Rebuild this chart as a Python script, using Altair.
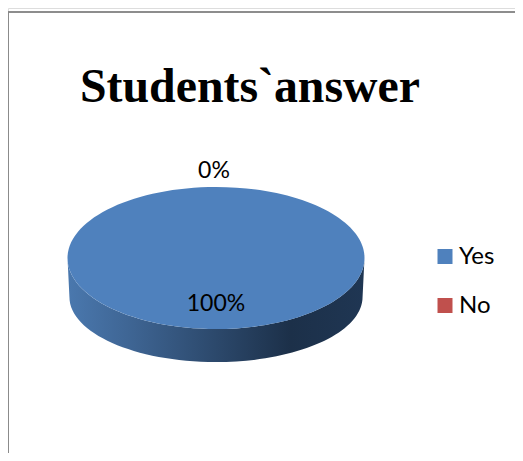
import altair as alt
import pandas as pd

answers = ["Yes", "No"]
shares = [100, 0]
labels = ["100%", "0%"]
colors = ["#4F81BD", "#C0504D"]
title_text = "Students`answer"

df = pd.DataFrame({"answer": answers, "share": shares, "label": labels})

TOP = "M-1 0 A1 0.478 0 1 1 1 0 A1 0.478 0 1 1 -1 0 Z"
SIDE = "M-1 0 L-0.987 0.263 A0.987 0.438 0 0 0 0.987 0.263 L1 0 A1 0.478 0 0 1 -1 0 Z"

W, H = 507, 445
CX, CY = 208, 250
S = (148.5 * 2) ** 2

size_enc = alt.Size("share:Q", scale=alt.Scale(domain=[0, 100], range=[0, S]), legend=None)
base = alt.Chart(df)

side = base.mark_point(
    shape=SIDE, filled=True, opacity=1, strokeWidth=0,
    fill=alt.Gradient(
        gradient="linear", x1=0, x2=1, y1=0, y2=0,
        stops=[
            alt.GradientStop(color="#4A78AE", offset=0),
            alt.GradientStop(color="#3F6695", offset=0.2),
            alt.GradientStop(color="#1C3049", offset=0.75),
            alt.GradientStop(color="#1F3653", offset=1),
        ],
    ),
).encode(x=alt.value(CX), y=alt.value(CY), size=size_enc)

top = base.mark_point(shape=TOP, filled=True, opacity=1, strokeWidth=0).encode(
    x=alt.value(CX), y=alt.value(CY), size=size_enc,
    color=alt.Color(
        "answer:N",
        scale=alt.Scale(domain=answers, range=colors),
        legend=alt.Legend(
            title=None, orient="none", legendX=425, legendY=236.5,
            symbolType="square", symbolSize=225, symbolStrokeWidth=0,
            labelFont="Lato", labelFontSize=24, labelColor="#000000",
            labelOffset=2, rowPadding=25, symbolOpacity=1,
        ),
    ),
)

yes_label = base.transform_filter("datum.answer == 'Yes'").mark_text(
    font="Lato", fontSize=23, color="#000000"
).encode(x=alt.value(208), y=alt.value(296), text="label:N")
no_label = base.transform_filter("datum.answer == 'No'").mark_text(
    font="Lato", fontSize=23, color="#000000"
).encode(x=alt.value(206), y=alt.value(163), text="label:N")

frame_top = base.mark_rule(color="#868686", strokeWidth=1.5).encode(
    x=alt.value(0), x2=alt.value(W), y=alt.value(4)
)
frame_left = base.mark_rule(color="#868686", strokeWidth=1.5).encode(
    x=alt.value(0), y=alt.value(4), y2=alt.value(H)
)

chart = alt.layer(frame_top, frame_left, side, top, yes_label, no_label).properties(
    width=W, height=H, padding=0,
    autosize=alt.AutoSizeParams(type="none"),
    title=alt.TitleParams(
        title_text, font="Liberation Serif", fontSize=47.8, fontWeight="bold",
        color="#000000", anchor="start", dx=72, dy=108, frame="group",
    ),
).configure_view(stroke=None).configure(background="#FFFFFF")

chart.save("out.html", embed_options={"renderer": "svg", "actions": False})
